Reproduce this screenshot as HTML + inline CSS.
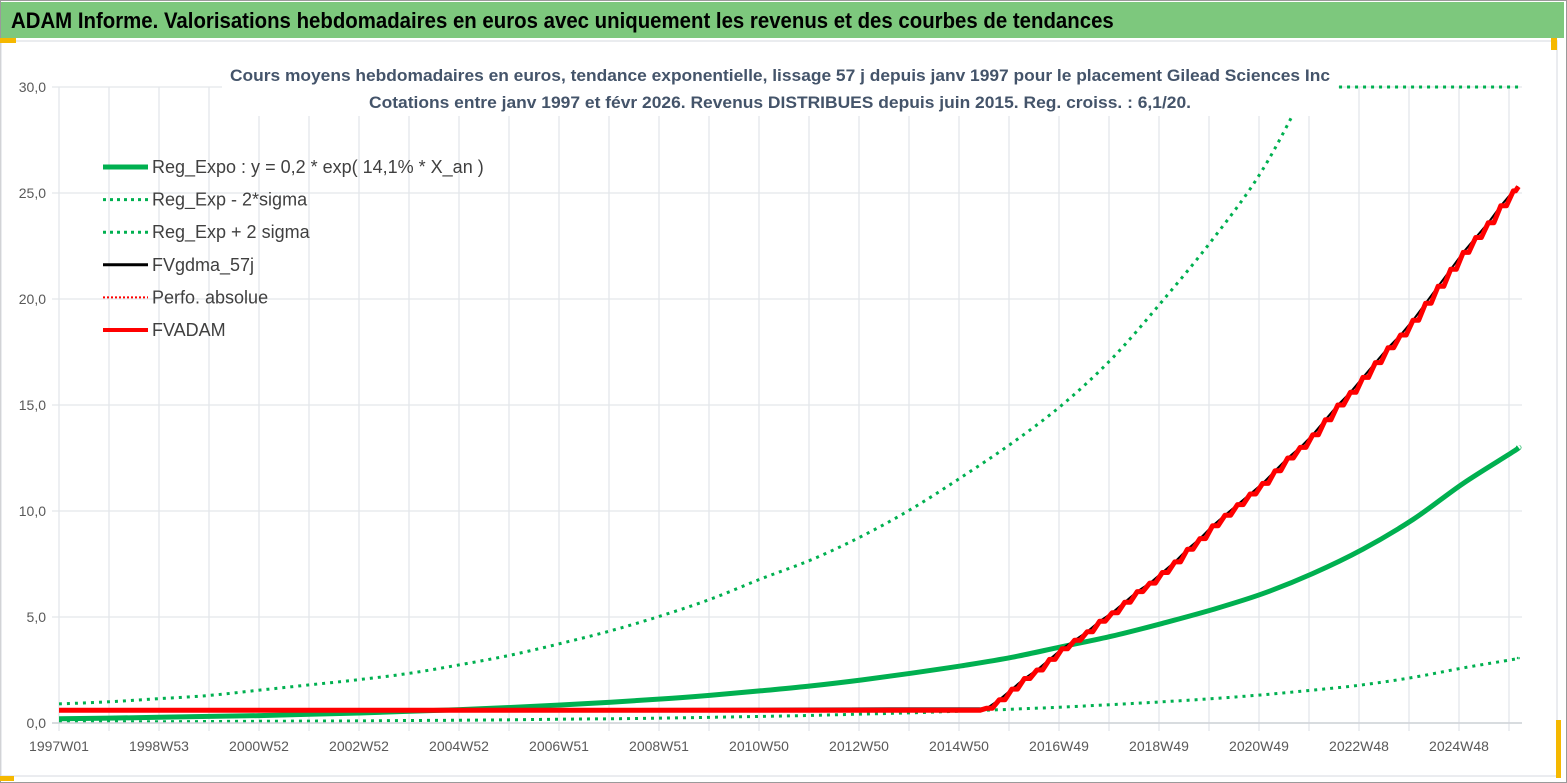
<!DOCTYPE html>
<html><head><meta charset="utf-8">
<style>
html,body{margin:0;padding:0;background:#fff;}
body{width:1567px;height:783px;overflow:hidden;position:relative;font-family:"Liberation Sans",sans-serif;}
#frame{position:absolute;left:0;top:0;width:1565px;height:781px;border:1px solid #9a9a9a;}
#header{position:absolute;left:1px;top:2px;width:1563px;height:36px;background:#7DC87D;}
#header span{position:absolute;left:10px;top:6px;font-size:22px;font-weight:bold;color:#000;white-space:nowrap;transform:scaleX(0.927);transform-origin:0 0;}
svg{position:absolute;left:0;top:0;}
</style></head><body>
<div id="frame"></div>
<div id="header"><span>ADAM Informe. Valorisations hebdomadaires en euros avec uniquement les revenus et des courbes de tendances</span></div>
<svg id="chart" width="1567" height="783">
  <defs><clipPath id="plotclip"><rect x="40" y="86" width="1500" height="660"/></clipPath></defs>
  <rect x="1" y="41" width="1556" height="735" fill="#fff" stroke="#e4e6ea" stroke-width="1.5"/>
  <rect x="0" y="38" width="16" height="5" fill="#F5B800"/>
  <rect x="1551" y="38" width="6" height="12" fill="#F5B800"/>
  <rect x="1556" y="720" width="5" height="58" fill="#F5B800"/>
  <rect x="0" y="776" width="14" height="5" fill="#F5B800"/>
  <g id="grid"></g>
  <g id="series"></g>
  <rect x="222" y="60" width="1116" height="56" fill="#fff"/>
  <text x="780" y="81" text-anchor="middle" font-size="17" font-weight="bold" fill="#44546A" textLength="1100" lengthAdjust="spacingAndGlyphs">Cours moyens hebdomadaires en euros, tendance exponentielle, lissage 57 j depuis janv 1997 pour le placement Gilead Sciences Inc</text>
  <text x="780" y="108" text-anchor="middle" font-size="17" font-weight="bold" fill="#44546A" textLength="822" lengthAdjust="spacingAndGlyphs">Cotations entre janv 1997 et févr 2026. Revenus DISTRIBUES depuis juin 2015. Reg. croiss. : 6,1/20.</text>
  <g id="axes"></g>
  <g id="legend" font-size="18" fill="#404040"></g>
</svg>
<script>
// ---- data ----
const yTicks = [0,5,10,15,20,25,30];
const yTickLabels = ["0,0","5,0","10,0","15,0","20,0","25,0","30,0"];
const xLabels = ["1997W01","1998W53","2000W52","2002W52","2004W52","2006W51","2008W51","2010W50","2012W50","2014W50","2016W49","2018W49","2020W49","2022W48","2024W48"];
const yearsT = [0,1,2,3,4,5,6,7,8,9,10,11,12,13,14,15,16,17,18,19,20,21,22,23,24,25,26,27,28,29,29.1];
const regExpo = [0.2,0.23,0.27,0.31,0.35,0.41,0.47,0.55,0.63,0.73,0.85,0.98,1.13,1.31,1.52,1.75,2.03,2.35,2.7,3.1,3.6,4.1,4.7,5.35,6.1,7.05,8.2,9.6,11.3,12.8,13.0];
const regUpper = [0.9,1.0,1.15,1.3,1.55,1.8,2.05,2.35,2.75,3.2,3.75,4.35,5.05,5.85,6.8,7.7,8.8,10.1,11.6,13.2,15.0,17.2,19.9,22.8,26.1,30.5,35,40,46,52,53];
const regLower = [0.05,0.055,0.06,0.07,0.08,0.09,0.1,0.12,0.13,0.15,0.18,0.2,0.23,0.27,0.31,0.36,0.42,0.48,0.56,0.65,0.75,0.87,1.0,1.15,1.33,1.55,1.8,2.15,2.6,3.0,3.06];
const adamT = [0,18.5,18.75,19,19.25,19.5,19.75,20,20.25,20.5,20.75,21,21.25,21.5,21.75,22,22.25,22.5,22.75,23,23.25,23.5,23.75,24,24.25,24.5,24.75,25,25.25,25.5,25.75,26,26.25,26.5,26.75,27,27.25,27.5,27.75,28,28.25,28.5,28.75,29,29.1];
const adamV = [0.6,0.7,1.1,1.6,2.1,2.5,3.0,3.5,3.9,4.3,4.8,5.2,5.7,6.2,6.6,7.1,7.6,8.2,8.7,9.3,9.8,10.3,10.8,11.3,11.9,12.5,13.0,13.6,14.3,15.0,15.6,16.3,17.0,17.7,18.3,19.0,19.8,20.6,21.4,22.2,22.9,23.6,24.4,25.1,25.3];

// ---- axes ----
const X0=59, XPY=50.15, Y0=723, YPU=21.2, PLOT_L=52, PLOT_R=1522, YMAX=30;
const xs=t=>X0+t*XPY;
const ysRaw=v=>Y0-v*YPU;
const ys=v=>Y0-Math.min(v,YMAX)*YPU;
const NS="http://www.w3.org/2000/svg";
function mk(tag,attrs,parent){const e=document.createElementNS(NS,tag);for(const k in attrs)e.setAttribute(k,attrs[k]);parent.appendChild(e);return e;}
const grid=document.getElementById('grid'), axes=document.getElementById('axes'), ser=document.getElementById('series'), leg=document.getElementById('legend');

yTicks.forEach((v,i)=>{
  const l=mk('line',{x1:PLOT_L,x2:PLOT_R,y1:ys(v),y2:ys(v),stroke:v===0?'#d0d3d8':'#e3e6ea','stroke-width':1.3},grid);
  
  
  const t=mk('text',{x:46,y:ys(v)+5,'text-anchor':'end','font-size':14,fill:'#595959'},axes);
  t.textContent=yTickLabels[i];
  
  
});
for(let k=0;k<=29;k++){
  const x=X0+k*50;
  const l=mk('line',{x1:x,x2:x,y1:ys(30),y2:Y0+8,stroke:'#e3e6ea','stroke-width':1.3},grid);
  
  
}
xLabels.forEach((s,i)=>{
  const t=mk('text',{x:X0+i*100,y:751,'text-anchor':'middle','font-size':14,fill:'#595959'},axes);
  t.textContent=s;
  
  
});

// smooth path through points (Catmull-Rom)
function smooth(T,V,yf){
  const P=T.map((t,i)=>[xs(t),yf(V[i])]);
  let d='M'+P[0][0].toFixed(1)+','+P[0][1].toFixed(1);
  for(let i=0;i<P.length-1;i++){
    const p0=P[Math.max(0,i-1)],p1=P[i],p2=P[i+1],p3=P[Math.min(P.length-1,i+2)];
    const c1=[p1[0]+(p2[0]-p0[0])/6,p1[1]+(p2[1]-p0[1])/6];
    const c2=[p2[0]-(p3[0]-p1[0])/6,p2[1]-(p3[1]-p1[1])/6];
    d+=' C'+c1[0].toFixed(1)+','+c1[1].toFixed(1)+' '+c2[0].toFixed(1)+','+c2[1].toFixed(1)+' '+p2[0].toFixed(1)+','+p2[1].toFixed(1);
  }
  return d;
}
function pts(T,V){return T.map((t,i)=>xs(t).toFixed(1)+','+ys(V[i]).toFixed(1)).join(' ');}
const up=mk('path',{d:smooth(yearsT,regUpper,ysRaw),fill:'none',stroke:'#00B050','stroke-width':3,'stroke-dasharray':'3 5','clip-path':'url(#plotclip)'},ser);


// clamped part of upper series drawn at the axis max
let cross=null;
for(let i=1;i<regUpper.length;i++){if(regUpper[i]>=YMAX&&regUpper[i-1]<YMAX){const f=(YMAX-regUpper[i-1])/(regUpper[i]-regUpper[i-1]);cross=yearsT[i-1]+f*(yearsT[i]-yearsT[i-1]);break;}}
if(cross!==null){
  const cl=mk('line',{x1:xs(cross),x2:xs(yearsT[yearsT.length-1]),y1:ys(YMAX),y2:ys(YMAX),stroke:'#00B050','stroke-width':3,'stroke-dasharray':'3 5'},ser);
  
  
}
const lo=mk('path',{d:smooth(yearsT,regLower,ys),fill:'none',stroke:'#00B050','stroke-width':3,'stroke-dasharray':'3 5'},ser);


const mid=mk('path',{d:smooth(yearsT,regExpo,ys),fill:'none',stroke:'#00B050','stroke-width':5},ser);


const blk=mk('polyline',{points:pts(adamT,adamV),fill:'none',stroke:'#000','stroke-width':2},ser);


// red staircase
let d='M'+xs(adamT[0])+','+ys(adamV[0]);
for(let i=1;i<adamT.length;i++){
  const w=Math.min(7,(xs(adamT[i])-xs(adamT[i-1]))*0.55);
  const xa=xs(adamT[i])-w;
  d+=' L'+xa.toFixed(1)+','+ys(adamV[i-1]).toFixed(1)+' L'+xs(adamT[i]).toFixed(1)+','+ys(adamV[i]).toFixed(1);
}
const red=mk('path',{d:d,fill:'none',stroke:'#FF0000','stroke-width':5,'stroke-linejoin':'round'},ser);



const axisL=mk('line',{x1:PLOT_L,x2:PLOT_R,y1:Y0,y2:Y0,stroke:'#d0d3d8','stroke-width':1.5},axes);



// legend
const legendNames=["Reg_Expo : y = 0,2 * exp( 14,1% *  X_an )","Reg_Exp - 2*sigma","Reg_Exp + 2 sigma","FVgdma_57j","Perfo. absolue","FVADAM"];
const legendStyles=[['#00B050',5,''],['#00B050',3,'3 4'],['#00B050',3,'3 4'],['#000',3,''],['#FF0000',2,'2 2'],['#FF0000',4,'']];
legendNames.forEach((n,i)=>{
  const y=167+i*32.6;
  const g=mk('g',{},leg);
  
  
  const s=legendStyles[i];
  mk('line',{x1:103,x2:148,y1:y,y2:y,stroke:s[0],'stroke-width':s[1],'stroke-dasharray':s[2]},g);
  const t=mk('text',{x:152,y:y+6},g);
  t.textContent=n;
});
</script>
</body></html>
